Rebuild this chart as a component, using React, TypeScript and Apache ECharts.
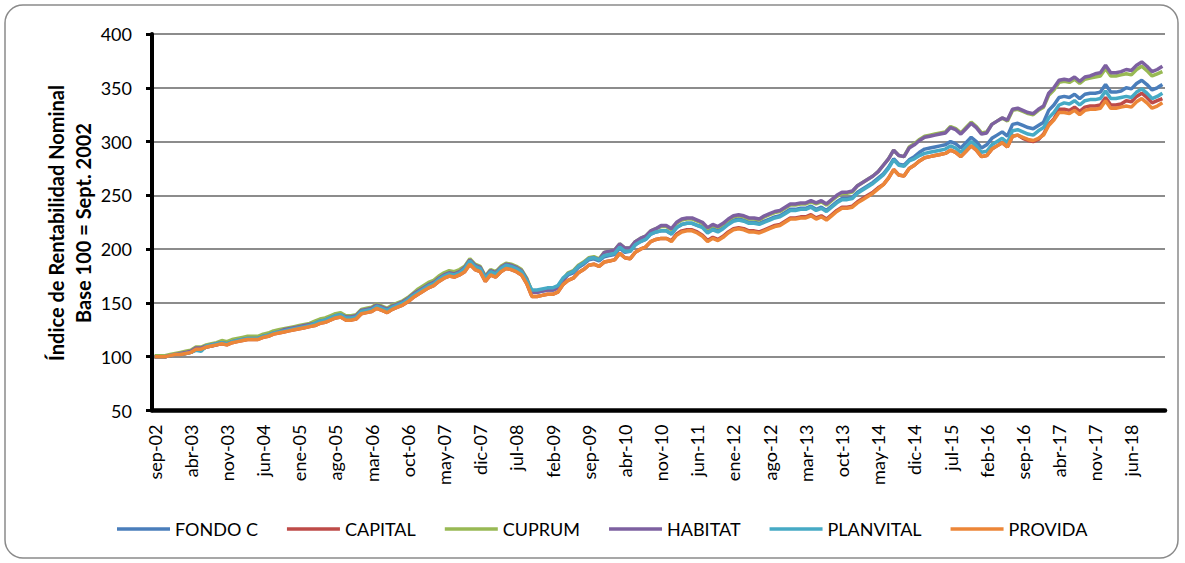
import React, { useEffect, useRef } from "react";
import * as echarts from "echarts";

const MONTHS = ["ene", "feb", "mar", "abr", "may", "jun", "jul", "ago", "sep", "oct", "nov", "dic"];
const START_YEAR = 2002;
const START_MONTH = 8; // sep
const N_MONTHS = 196;

const SERIES_NAMES = ["FONDO C", "CAPITAL", "CUPRUM", "HABITAT", "PLANVITAL", "PROVIDA"];
const COLORS = ["#4A7EBB", "#BE4B48", "#98B954", "#7D60A0", "#46AAC5", "#EC8638"];

const Y_TICKS = [50, 100, 150, 200, 250, 300, 350, 400];

const FONDO_C = [
  100,100,100,101,102,102,103,104,107,107,
  109,110,111,113,112,114,115,116,117,117,
  117,119,120,122,123,124,125,126,127,128,
  129,130,132,133,135,137,138,136,136,137,
  142,143,144,147,145,143,146,148,150,153,
  157,160,163,166,168,172,175,177,176,178,
  182,189,184,182,173,179,177,182,185,184,
  182,179,171,160,160,161,162,162,164,171,
  176,178,183,186,190,191,189,193,194,195,
  201,197,198,204,207,209,214,216,217,217,
  214,220,223,224,224,222,221,216,219,217,
  220,224,227,228,227,225,225,224,226,228,
  230,231,234,237,237,238,238,240,237,239,
  236,240,244,247,247,248,253,256,259,262,
  266,270,276,284,279,278,283,286,290,293,
  294,295,296,297,300,298,294,299,304,300,
  294,297,303,306,309,305,316,317,315,313,
  312,315,318,329,334,341,342,341,344,340,
  344,345,345,346,353,346,346,347,350,349,
  354,357,353,348,350,353,
];

const CAPITAL = [
  100,100,100,101,102,102,103,104,107,107,
  109,110,111,112,111,113,114,115,116,116,
  116,118,119,121,122,123,124,125,126,127,
  128,129,131,132,134,136,137,134,134,135,
  140,141,142,145,143,141,144,146,148,151,
  155,158,161,164,166,170,173,175,174,176,
  179,186,181,179,170,176,174,179,182,181,
  179,176,168,156,156,157,158,158,160,167,
  171,173,178,181,185,186,184,188,189,190,
  196,192,191,197,200,202,207,209,210,210,
  208,214,217,218,218,216,213,208,211,209,
  212,216,219,220,219,217,217,216,218,220,
  222,223,226,229,229,230,230,232,229,231,
  228,232,236,239,239,240,244,247,250,253,
  257,260,266,274,269,268,275,278,282,285,
  286,287,288,289,292,290,286,291,296,292,
  286,287,293,296,299,295,305,306,303,301,
  300,302,307,316,321,330,330,329,332,328,
  332,333,333,334,341,334,334,335,338,337,
  342,345,341,336,338,340,
];

const CUPRUM = [
  101,101,101,102,103,104,105,106,109,109,
  111,112,113,115,114,116,117,118,119,119,
  119,121,122,124,125,126,127,128,129,130,
  131,133,135,136,138,140,141,138,138,139,
  144,145,146,149,147,145,148,150,152,155,
  159,163,166,169,171,175,178,180,179,181,
  184,191,186,184,175,181,179,184,187,186,
  184,181,173,161,161,162,163,163,165,172,
  178,180,185,188,192,193,191,197,198,199,
  205,201,201,207,210,212,217,219,221,221,
  218,224,227,228,228,226,224,219,222,220,
  223,227,230,231,230,228,228,227,230,232,
  234,235,238,241,241,242,242,244,242,244,
  241,245,249,252,252,253,259,262,265,268,
  272,278,284,292,287,286,295,298,302,305,
  306,307,308,309,314,312,308,313,318,314,
  308,309,316,319,322,319,329,330,328,326,
  325,329,332,343,348,355,356,355,358,354,
  358,359,360,361,368,361,361,362,363,362,
  367,370,366,361,363,365,
];

const HABITAT = [
  100,100,100,101,102,103,104,105,108,108,
  110,111,112,113,112,114,115,116,117,117,
  117,119,120,122,123,125,126,127,128,129,
  130,131,133,134,136,138,139,137,137,138,
  143,144,145,148,146,144,147,149,151,154,
  158,161,164,167,169,173,176,178,177,179,
  183,190,185,183,174,180,178,183,186,185,
  183,180,172,160,160,161,162,162,164,171,
  177,179,184,187,191,192,190,197,198,199,
  205,201,201,207,210,212,217,219,222,222,
  219,225,228,229,229,227,225,220,223,221,
  224,228,231,232,231,229,229,228,231,233,
  235,236,239,242,242,243,243,245,243,245,
  242,246,250,253,253,254,259,262,265,268,
  272,278,284,292,287,286,294,297,301,304,
  305,306,307,308,313,311,307,312,317,313,
  307,308,316,319,322,320,330,331,329,327,
  326,330,333,345,350,357,358,357,360,356,
  360,361,363,364,371,364,364,365,367,366,
  371,374,370,365,367,370,
];

const PLANVITAL = [
  100,100,100,101,102,102,103,104,106,105,
  110,111,112,113,112,114,115,116,117,117,
  117,119,120,122,123,124,125,126,127,128,
  129,131,133,134,136,138,139,136,136,137,
  142,143,144,147,145,143,146,148,150,153,
  157,160,163,166,168,172,175,177,176,178,
  182,189,184,182,173,179,177,182,185,184,
  182,179,171,162,162,163,164,164,166,173,
  177,179,184,187,191,192,190,194,195,196,
  202,198,198,204,207,209,214,216,217,217,
  214,220,223,224,224,222,220,215,218,216,
  219,223,226,227,226,224,224,223,225,227,
  229,230,233,236,236,237,237,239,236,238,
  235,239,243,246,246,247,252,255,258,261,
  265,269,275,283,278,277,282,284,287,289,
  290,291,292,293,296,294,290,295,300,296,
  290,291,297,300,303,299,310,311,309,307,
  306,310,313,322,327,334,336,335,338,334,
  338,339,339,340,347,340,340,341,342,341,
  346,349,345,340,342,345,
];

const PROVIDA = [
  100,100,100,101,102,102,103,104,107,107,
  109,110,111,112,111,113,114,115,116,116,
  116,118,119,121,122,123,124,125,126,127,
  128,129,131,132,134,136,137,134,134,135,
  140,141,142,145,143,141,144,146,148,151,
  155,158,161,164,166,170,173,175,174,176,
  179,186,181,179,170,176,174,179,182,181,
  179,176,168,156,156,157,158,158,160,167,
  171,173,178,181,185,186,184,188,189,190,
  196,192,191,197,200,202,207,209,210,210,
  207,213,216,217,217,215,212,207,210,208,
  211,215,218,219,218,216,216,215,217,219,
  221,222,225,228,228,229,229,231,228,230,
  227,231,235,238,238,239,243,246,249,252,
  256,260,266,274,269,268,275,278,282,285,
  286,287,288,289,292,290,286,291,296,292,
  286,287,293,296,299,295,305,306,304,302,
  301,303,306,315,320,327,327,326,329,325,
  329,330,330,331,338,331,331,332,333,332,
  337,340,336,331,333,336,
];

const CATEGORIES: string[] = Array.from({ length: N_MONTHS }, (_, i) => {
  const m = (START_MONTH + i) % 12;
  const y = START_YEAR + Math.floor((START_MONTH + i) / 12);
  return `${MONTHS[m]}-${String(y % 100).padStart(2, "0")}`;
});

const FONT = "Lato, 'Open Sans', sans-serif";

export default function App() {
  const ref = useRef<HTMLDivElement>(null);

  useEffect(() => {
    if (!ref.current) return;
    const chart = echarts.init(ref.current, null, { renderer: "svg" });
    const data = [FONDO_C, CAPITAL, CUPRUM, HABITAT, PLANVITAL, PROVIDA];
    chart.setOption({
      animation: false,
      backgroundColor: "#ffffff",
      textStyle: { fontFamily: FONT },
      grid: { left: 152, right: 20, top: 34, bottom: 152.5, containLabel: false },
      legend: {
        data: SERIES_NAMES,
        left: 112,
        top: 515,
        icon: "rect",
        itemWidth: 53,
        itemHeight: 3.5,
        itemGap: 29,
        textStyle: { fontFamily: FONT, fontSize: 18, color: "#000" },
      },
      xAxis: {
        type: "category",
        data: CATEGORIES,
        boundaryGap: true,
        axisLine: { show: true, lineStyle: { color: "#000", width: 4.5 } },
        axisTick: { show: false },
        axisLabel: {
          interval: 6,
          rotate: 90,
          margin: 14,
          fontFamily: FONT,
          fontSize: 18,
          color: "#000",
        },
        splitLine: { show: false },
      },
      yAxis: {
        type: "value",
        min: Y_TICKS[0],
        max: Y_TICKS[Y_TICKS.length - 1],
        interval: 50,
        axisLine: { show: true, lineStyle: { color: "#000", width: 4 } },
        axisTick: { show: true, length: 6, lineStyle: { color: "#000", width: 3 } },
        axisLabel: { margin: 20, fontFamily: FONT, fontSize: 18, color: "#000" },
        splitLine: { show: true, lineStyle: { color: "#8C8C8C", width: 2 } },
      },
      graphic: [
        {
          type: "rect",
          silent: true,
          z: -1,
          shape: { x: 5, y: 5, width: 1173, height: 553, r: 18 },
          style: { fill: "none", stroke: "#8A8A8A", lineWidth: 1.5 },
        },
        {
          type: "text",
          x: 69,
          y: 223,
          rotation: Math.PI / 2,
          style: {
            text: "Índice de Rentabilidad Nominal\nBase 100 = Sept. 2002",
            font: `bold 20px ${FONT}`,
            fill: "#000",
            textAlign: "center",
            textVerticalAlign: "middle",
            lineHeight: 27,
          },
        },
      ],
      series: SERIES_NAMES.map((name, k) => ({
        name,
        type: "line",
        data: data[k],
        symbol: "none",
        showSymbol: false,
        smooth: false,
        color: COLORS[k],
        lineStyle: { color: COLORS[k], width: 3.5 },
      })),
    });
    return () => chart.dispose();
  }, []);

  return (
    <div
      ref={ref}
      style={{ position: "absolute", left: 0, top: 0, width: 1185, height: 563, background: "#fff" }}
    />
  );
}
